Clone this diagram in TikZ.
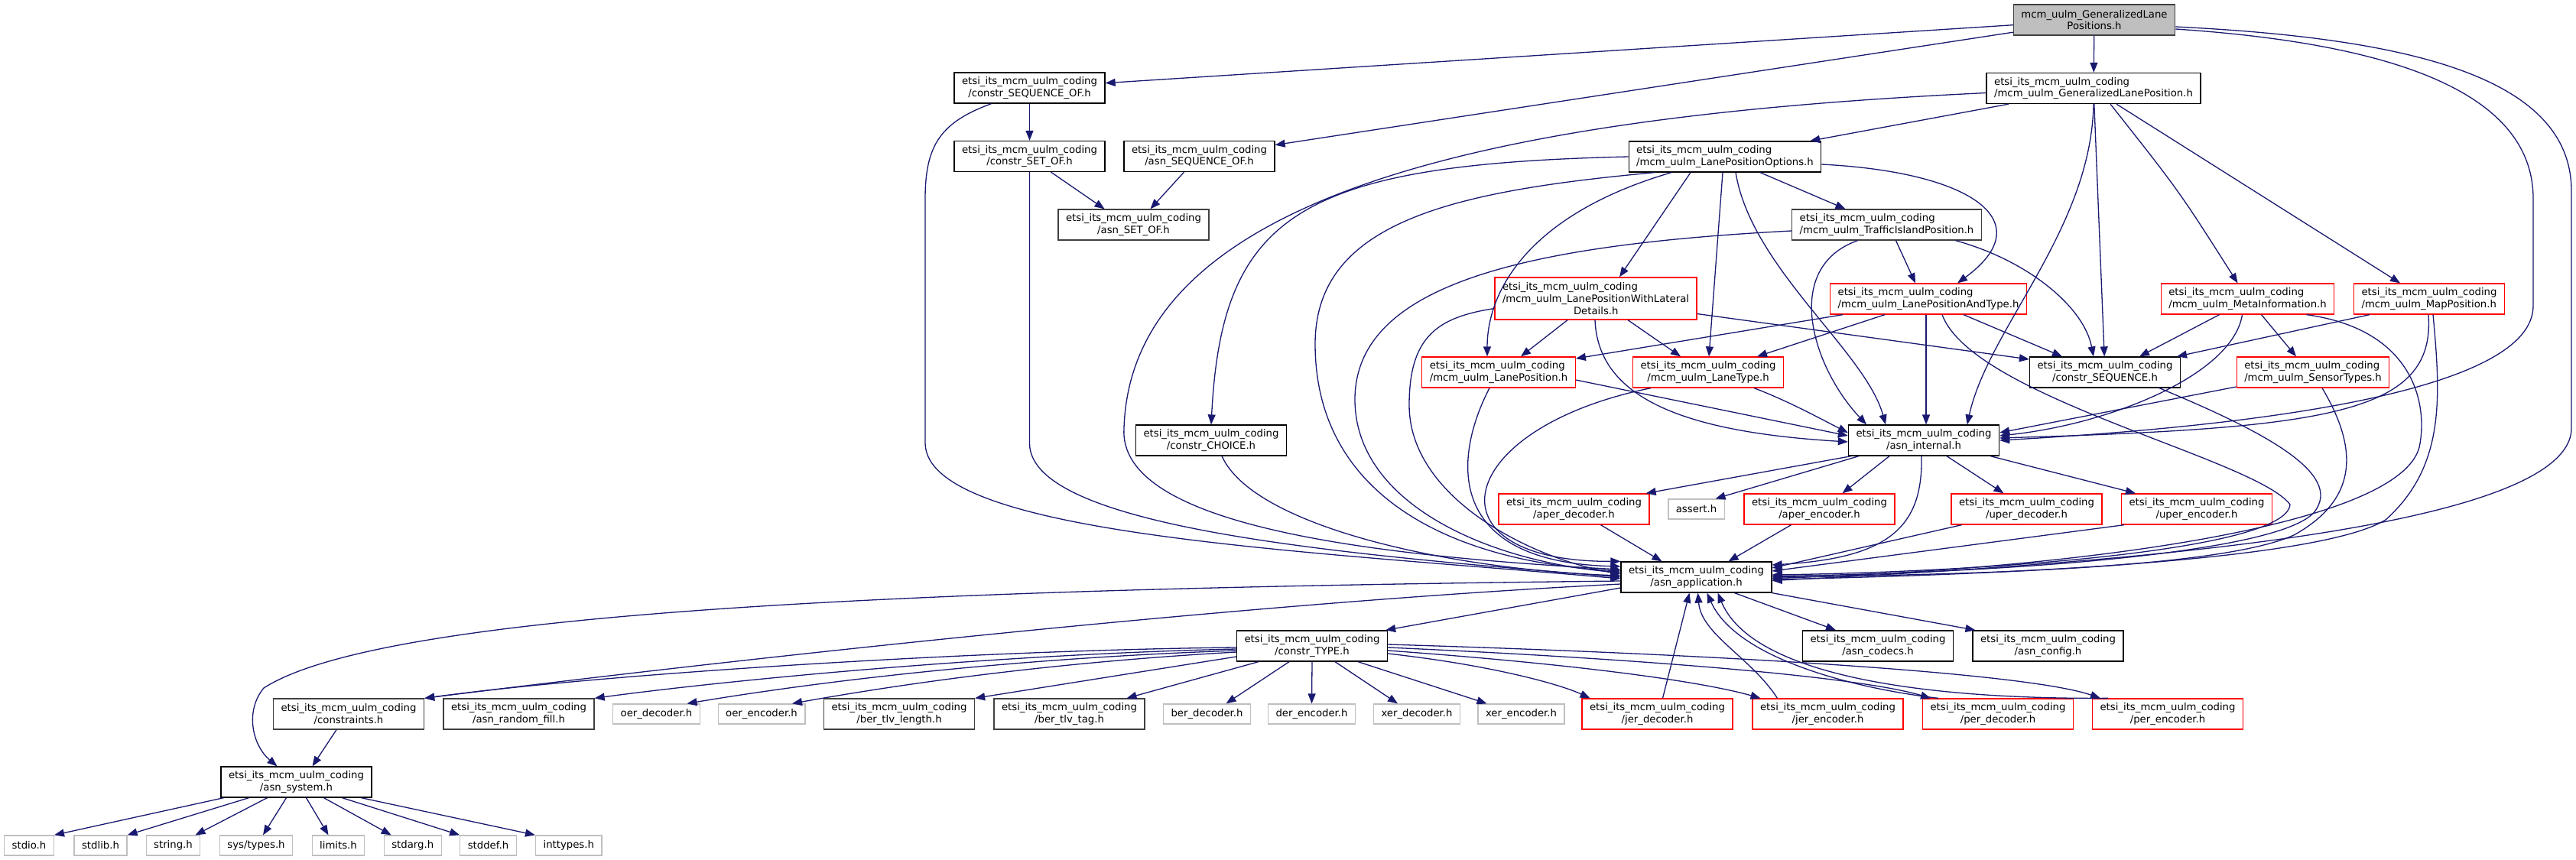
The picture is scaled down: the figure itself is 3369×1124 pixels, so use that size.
\documentclass[tikz,border=0pt]{standalone}
\usepackage{fontspec}
\setmainfont{DejaVu Sans}
\usetikzlibrary{arrows.meta}
\definecolor{edgecol}{RGB}{25,25,112}
\definecolor{gfill}{RGB}{191,191,191}
\definecolor{gdark}{RGB}{64,64,64}
\definecolor{gsys}{RGB}{191,191,191}
\newcommand{\etsi}{etsi\_its\_mcm\_uulm\_coding}
\tikzset{
 box/.style={rectangle, line width=1.3pt, inner xsep=10pt, inner ysep=0pt, minimum height=40pt, fill=white, font=\fontsize{13.25pt}{15.6pt}\selectfont},
 nb/.style={box, draw=black, align=center},
 ng/.style={box, draw=gdark, align=center},
 nr/.style={box, draw=red, align=center},
 nrt/.style={box, draw=red, minimum height=55pt, align=left},
 ns/.style={box, draw=gsys, minimum height=26pt, align=center},
 nroot/.style={box, draw=gdark, fill=gfill, align=center},
 dep/.style={draw=edgecol, line width=1.3pt, -{Triangle[length=13pt,width=10pt]}},
}
\begin{document}
\begin{tikzpicture}[x=1pt,y=-1pt]
\fill[white] (0,0) rectangle (3369,1124);
\useasboundingbox (0,0) rectangle (3369,1124);
% nodes
\node[nroot] (root) at (2739,26) {mcm\_uulm\_GeneralizedLane\\Positions.h};
\node[nb] (cSEQOF) at (1346.5,115) {\etsi\\/constr\_SEQUENCE\_OF.h};
\node[nb,align=left] (GLP) at (2738,115.5) {\etsi\\/mcm\_uulm\_GeneralizedLanePosition.h};
\node[nb] (cSETOF) at (1346.5,204.5) {\etsi\\/constr\_SET\_OF.h};
\node[nb] (aSEQOF) at (1568.5,204.5) {\etsi\\/asn\_SEQUENCE\_OF.h};
\node[nb,align=left] (LPO) at (2256,205) {\etsi\\/mcm\_uulm\_LanePositionOptions.h};
\node[ng] (aSETOF) at (1482.5,294) {\etsi\\/asn\_SET\_OF.h};
\node[ng,align=left] (TIP) at (2467.5,294) {\etsi\\/mcm\_uulm\_TrafficIslandPosition.h};
\node[nrt] (LPWLD) at (2087,390.5) {\etsi\\/mcm\_uulm\_LanePositionWithLateral\\\hspace*{93pt}Details.h};
\node[nr,align=left] (LPAT) at (2522,391) {\etsi\\/mcm\_uulm\_LanePositionAndType.h};
\node[nr,align=left] (MI) at (2939.5,391) {\etsi\\/mcm\_uulm\_MetaInformation.h};
\node[nr,align=left] (MP) at (3177,391) {\etsi\\/mcm\_uulm\_MapPosition.h};
\node[nr,align=left] (LP) at (1960,487) {\etsi\\/mcm\_uulm\_LanePosition.h};
\node[nr] (LT) at (2234,487) {\etsi\\/mcm\_uulm\_LaneType.h};
\node[nb] (cSEQ) at (2753,487) {\etsi\\/constr\_SEQUENCE.h};
\node[nr,align=left] (ST) at (3025,487) {\etsi\\/mcm\_uulm\_SensorTypes.h};
\node[nb] (CHOICE) at (1584,576) {\etsi\\/constr\_CHOICE.h};
\node[nb] (AI) at (2516,576) {\etsi\\/asn\_internal.h};
\node[nr] (aperdec) at (2058.5,666) {\etsi\\/aper\_decoder.h};
\node[ns] (assert) at (2218.5,666) {assert.h};
\node[nr] (aperenc) at (2379.5,666) {\etsi\\/aper\_encoder.h};
\node[nr] (uperdec) at (2650.5,666) {\etsi\\/uper\_decoder.h};
\node[nr] (uperenc) at (2873,666) {\etsi\\/uper\_encoder.h};
\node[nb] (AA) at (2218.5,755) {\etsi\\/asn\_application.h};
\node[nb] (CT) at (1716,845) {\etsi\\/constr\_TYPE.h};
\node[nb] (codecs) at (2456,845) {\etsi\\/asn\_codecs.h};
\node[nb] (config) at (2678.5,845) {\etsi\\/asn\_config.h};
\node[ng] (constraints) at (456,934) {\etsi\\/constraints.h};
\node[ng] (rfill) at (678.5,934) {\etsi\\/asn\_random\_fill.h};
\node[ns] (oerdec) at (858.5,934) {oer\_decoder.h};
\node[ns] (oerenc) at (996,934) {oer\_encoder.h};
\node[ng] (berlen) at (1176,934) {\etsi\\/ber\_tlv\_length.h};
\node[ng] (bertag) at (1398.5,934) {\etsi\\/ber\_tlv\_tag.h};
\node[ns] (berdec) at (1578.5,934) {ber\_decoder.h};
\node[ns] (derenc) at (1715.5,934) {der\_encoder.h};
\node[ns] (xerdec) at (1853,934) {xer\_decoder.h};
\node[ns] (xerenc) at (1989.5,934) {xer\_encoder.h};
\node[nr] (jerdec) at (2167.5,934) {\etsi\\/jer\_decoder.h};
\node[nr] (jerenc) at (2390.5,934) {\etsi\\/jer\_encoder.h};
\node[nr] (perdec) at (2613,934) {\etsi\\/per\_decoder.h};
\node[nr] (perenc) at (2835,934) {\etsi\\/per\_encoder.h};
\node[nb] (system) at (387.5,1023) {\etsi\\/asn\_system.h};
\node[ns] (stdio) at (38,1106) {stdio.h};
\node[ns] (stdlib) at (131.5,1106) {stdlib.h};
\node[ns] (string) at (226.5,1106) {string.h};
\node[ns] (systypes) at (335,1106) {sys/types.h};
\node[ns] (limits) at (442.5,1106) {limits.h};
\node[ns] (stdarg) at (539.75,1106) {stdarg.h};
\node[ns] (stddef) at (638.5,1106) {stddef.h};
\node[ns] (inttypes) at (743.75,1106) {inttypes.h};
% edges: root
\draw[dep] (root) -- (cSEQOF);
\draw[dep] (root) -- (aSEQOF);
\draw[dep] (root) -- (GLP);
\draw[dep] ([yshift=-12pt]root.east) .. controls (3100,55) and (3313,110) .. (3313,260) -- (3313,400) .. controls (3313,520) and (2900,560) .. (AI.east);
\draw[dep] ([yshift=-9pt]root.east) .. controls (3150,50) and (3363,100) .. (3363,250) -- (3363,560) .. controls (3363,700) and (2700,740) .. ([yshift=-4.5pt]AA.east);
% GLP
\draw[dep] ([yshift=-6pt]GLP.west) .. controls (2000,150) and (1480,240) .. (1470,560) .. controls (1462,680) and (1750,725) .. ([yshift=10pt]AA.west);
\draw[dep] (GLP) -- (LPO);
\draw[dep] (GLP.south) .. controls (2735,300) and (2600,430) .. (AI.20);
\draw[dep] (GLP) -- (cSEQ);
\draw[dep] ([xshift=22pt]GLP.south) .. controls (2850,250) .. ([xshift=-13pt]MI.north);
\draw[dep] ([xshift=30pt]GLP.south) -- ([xshift=-38pt]MP.north);
% LPO
\draw[dep] (LPO.west) .. controls (1700,215) and (1598,280) .. (CHOICE.north);
\draw[dep] ([xshift=-92pt]LPO.south) .. controls (1900,250) and (1720,290) .. (1720,450) .. controls (1720,650) and (1900,735) .. ([yshift=8pt]AA.west);
\draw[dep] ([xshift=-70pt]LPO.south) .. controls (2000,280) and (1945,380) .. ([xshift=-15pt]LP.north);
\draw[dep] ([xshift=-45pt]LPO.south) -- ([xshift=31pt]LPWLD.north);
\draw[dep] ([xshift=-3pt]LPO.south) -- ([xshift=1pt]LT.north);
\draw[dep] ([xshift=14pt]LPO.south) .. controls (2290,350) and (2440,460) .. ([xshift=-50pt]AI.north);
\draw[dep] ([xshift=46pt]LPO.south) -- ([xshift=-54pt]TIP.north);
\draw[dep] ([yshift=-10pt]LPO.east) .. controls (2580,225) and (2670,290) .. ([xshift=38pt]LPAT.north);
% TIP
\draw[dep] ([yshift=-8pt]TIP.west) .. controls (2000,320) and (1775,370) .. (1772,520) .. controls (1770,660) and (1950,735) .. ([yshift=6pt]AA.west);
\draw[dep] ([xshift=-38pt]TIP.south) .. controls (2330,350) and (2370,480) .. ([xshift=-75pt]AI.north);
\draw[dep] ([xshift=12pt]TIP.south) -- ([xshift=-17pt]LPAT.north);
\draw[dep] ([xshift=90pt]TIP.south) .. controls (2650,340) and (2725,400) .. ([xshift=-15pt]cSEQ.north);
% LPWLD
\draw[dep] ([yshift=-13pt]LPWLD.west) .. controls (1880,415) and (1843,440) .. (1843,530) .. controls (1843,650) and (2000,730) .. ([yshift=4pt]AA.west);
\draw[dep] ([xshift=-37pt]LPWLD.south) -- ([xshift=29pt]LP.north);
\draw[dep] ([xshift=42pt]LPWLD.south) -- ([xshift=-36pt]LT.north);
\draw[dep] ([xshift=-1pt]LPWLD.south) .. controls (2090,520) and (2200,565) .. ([yshift=-2pt]AI.west);
\draw[dep] ([yshift=-20pt]LPWLD.east) -- ([yshift=17pt]cSEQ.west);
% LPAT
\draw[dep] ([xshift=-112pt]LPAT.south) -- ([yshift=18pt]LP.east);
\draw[dep] ([xshift=-57pt]LPAT.south) -- ([xshift=64pt]LT.north);
\draw[dep] ([xshift=-3pt]LPAT.south) -- ([xshift=3pt]AI.north);
\draw[dep] ([xshift=18pt]LPAT.south) .. controls (2580,520) and (2950,600) .. (2995,660) .. controls (2990,720) and (2600,748) .. ([yshift=3pt]AA.east);
\draw[dep] ([xshift=46pt]LPAT.south) -- ([xshift=-56pt]cSEQ.north);
% LP, LT
\draw[dep] ([xshift=-12pt]LP.south) .. controls (1900,600) and (1890,735) .. ([yshift=14pt]AA.west);
\draw[dep] ([yshift=-10pt]LP.east) -- ([yshift=6pt]AI.west);
\draw[dep] ([xshift=-75pt]LT.south) .. controls (1900,560) and (1860,735) .. (AA.north west);
\draw[dep] ([xshift=60pt]LT.south) .. controls (2340,525) and (2385,550) .. ([yshift=10pt]AI.west);
% cSEQ
\draw[dep] ([xshift=71pt]cSEQ.south) .. controls (2950,560) and (3060,615) .. (3030,665) .. controls (3000,725) and (2600,750) .. ([yshift=1.5pt]AA.east);
% MI
\draw[dep] ([xshift=-37pt]MI.south) -- ([xshift=45pt]cSEQ.north);
\draw[dep] ([xshift=-7pt]MI.south) .. controls (2920,490) and (2760,555) .. ([yshift=6pt]AI.east);
\draw[dep] ([xshift=18pt]MI.south) -- ([xshift=-22pt]ST.north);
\draw[dep] ([xshift=77pt]MI.south) .. controls (3150,430) and (3175,520) .. (3165,580) .. controls (3150,690) and (2700,745) .. ([yshift=-1.5pt]AA.east);
% MP
\draw[dep] ([xshift=-78pt]MP.south) -- ([xshift=94pt]cSEQ.north);
\draw[dep] ([xshift=-1pt]MP.south) .. controls (3185,540) and (3050,560) .. ([yshift=3pt]AI.east);
\draw[dep] ([xshift=5pt]MP.south) .. controls (3192,520) and (3198,610) .. (3120,680) .. controls (3030,735) and (2600,752) .. ([yshift=-3pt]AA.east);
% ST
\draw[dep] ([yshift=-19pt]ST.west) -- ([yshift=10pt]AI.east);
\draw[dep] ([xshift=12pt]ST.south) .. controls (3080,580) and (3090,650) .. (3000,700) .. controls (2900,745) and (2550,752) .. (AA.east);
% CHOICE
\draw[dep] ([xshift=14pt]CHOICE.south) .. controls (1640,690) and (1900,745) .. ([yshift=2pt]AA.west);
% cSEQOF, cSETOF, aSEQOF
\draw[dep] (cSEQOF) -- (cSETOF);
\draw[dep] ([xshift=-50pt]cSEQOF.south) .. controls (1230,160) and (1210,190) .. (1210,260) -- (1210,580) .. controls (1212,700) and (1700,720) .. ([yshift=-2pt]AA.west);
\draw[dep] (cSETOF.south) -- (1346.5,580) .. controls (1347,690) and (1750,725) .. (AA.west);
\draw[dep] ([xshift=28pt]cSETOF.south) -- ([xshift=-38pt]aSETOF.north);
\draw[dep] ([xshift=-20pt]aSEQOF.south) -- ([xshift=22pt]aSETOF.north);
% AI
\draw[dep] ([xshift=-3pt]AI.south) .. controls (2515,690) and (2470,730) .. ([yshift=16pt]AA.east);
\draw[dep] ([xshift=-95pt]AI.south) -- ([xshift=-5pt]aperdec.north east);
\draw[dep] ([xshift=-85pt]AI.south) -- ([xshift=25pt]assert.north);
\draw[dep] ([xshift=-45pt]AI.south) -- ([xshift=30pt]aperenc.north);
\draw[dep] ([xshift=30pt]AI.south) -- ([xshift=-30pt]uperdec.north);
\draw[dep] ([xshift=-12pt]AI.south east) -- ([xshift=-80pt]uperenc.north);
% aper/uper -> AA
\draw[dep] ([xshift=35pt]aperdec.south) -- ([xshift=-45pt]AA.north);
\draw[dep] ([xshift=-37pt]aperenc.south) -- ([xshift=42pt]AA.north);
\draw[dep] ([xshift=-85pt]uperdec.south) -- ([yshift=12pt]AA.east);
\draw[dep] ([xshift=-95pt]uperenc.south) -- ([yshift=8pt]AA.east);
% AA outgoing
\draw[dep] ([yshift=-14pt]AA.west) -- ([xshift=-3pt]CT.north east);
\draw[dep] ([xshift=50pt]AA.south) -- ([xshift=-55pt]codecs.north);
\draw[dep] (AA.south east) -- ([xshift=-95pt]config.north);
\draw[dep] ([yshift=-9pt]AA.west) .. controls (1600,790) and (900,870) .. (constraints.north east);
\draw[dep] ([yshift=-5pt]AA.west) .. controls (1200,770) and (500,800) .. (345,900) .. controls (320,930) and (330,975) .. ([xshift=-25pt]system.north);
% CT outgoing
\draw[dep] ([yshift=-2pt]CT.west) .. controls (1300,850) and (800,880) .. (constraints.north east);
\draw[dep] ([yshift=-4pt]CT.west) .. controls (1300,856) and (950,890) .. (rfill.north east);
\draw[dep] ([yshift=-6pt]CT.west) .. controls (1300,862) and (1050,895) .. ([xshift=40pt]oerdec.north);
\draw[dep] ([yshift=-8pt]CT.west) .. controls (1350,868) and (1150,900) .. ([xshift=40pt]oerenc.north);
\draw[dep] ([yshift=-14pt]CT.west) -- (berlen.north east);
\draw[dep] ([xshift=-70pt]CT.south) -- ([xshift=75pt]bertag.north);
\draw[dep] ([xshift=-30pt]CT.south) -- ([xshift=25pt]berdec.north);
\draw[dep] (CT.south) -- (derenc.north);
\draw[dep] ([xshift=30pt]CT.south) -- ([xshift=-25pt]xerdec.north);
\draw[dep] ([xshift=60pt]CT.south) -- ([xshift=-45pt]xerenc.north);
\draw[dep] ([yshift=-10pt]CT.east) .. controls (1950,870) and (2040,895) .. ([xshift=-88pt]jerdec.north);
\draw[dep] ([yshift=-6pt]CT.east) .. controls (2050,868) and (2220,890) .. ([xshift=-88pt]jerenc.north);
\draw[dep] ([yshift=-2pt]CT.east) .. controls (2150,862) and (2430,885) .. ([xshift=-88pt]perdec.north);
\draw[dep] ([yshift=2pt]CT.east) .. controls (2250,856) and (2650,880) .. ([xshift=-88pt]perenc.north);
% jer/per -> AA
\draw[dep] ([xshift=7pt]jerdec.north) -- ([xshift=-9pt]AA.south);
\draw[dep] ([xshift=-66pt]jerenc.north) .. controls (2290,860) and (2225,830) .. ([xshift=2pt]AA.south);
\draw[dep] ([xshift=-78pt]perdec.north) .. controls (2420,900) and (2270,860) .. ([xshift=14pt]AA.south);
\draw[dep] ([xshift=-78pt]perenc.north) .. controls (2500,915) and (2290,880) .. ([xshift=28pt]AA.south);
% constraints, system
\draw[dep] ([xshift=-16pt]constraints.south) -- ([xshift=21pt]system.north);
\draw[dep] ([xshift=-95pt]system.south) -- (stdio.north east);
\draw[dep] ([xshift=-62pt]system.south) -- (stdlib.north east);
\draw[dep] ([xshift=-38pt]system.south) -- ([xshift=-7pt]string.north east);
\draw[dep] ([xshift=-13pt]system.south) -- ([xshift=9pt]systypes.north);
\draw[dep] ([xshift=13pt]system.south) -- ([xshift=-13pt]limits.north);
\draw[dep] ([xshift=36pt]system.south) -- ([xshift=10pt]stdarg.north west);
\draw[dep] ([xshift=60pt]system.south) -- (stddef.north west);
\draw[dep] ([xshift=85pt]system.south) -- (inttypes.north west);
\end{tikzpicture}
\end{document}
